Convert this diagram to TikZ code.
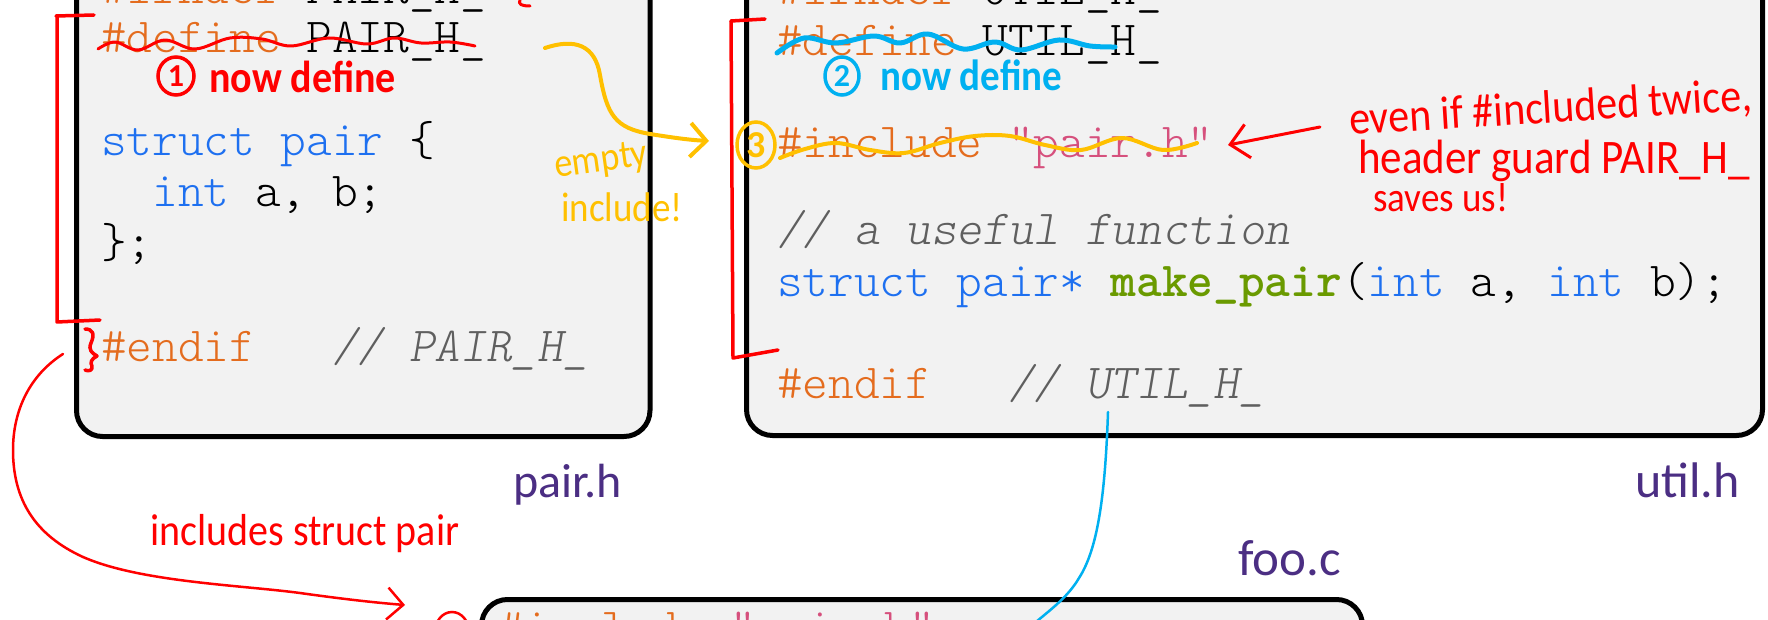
\documentclass[tikz,border=0pt]{standalone}
\usepackage{fontspec}
\usepackage{graphicx}
\usetikzlibrary{shapes.geometric,arrows.meta}
\newfontfamily\codefont{lmmonolt10-regular.otf}[ItalicFont=lmmonolt10-oblique.otf, BoldFont=lmmonolt10-bold.otf]
\newfontfamily\labelfont{Carlito}
\newfontfamily\handfont{Carlito}
\definecolor{codefill}{RGB}{242,242,242}
\definecolor{kwblue}{RGB}{30,112,240}
\definecolor{preorange}{RGB}{228,108,30}
\definecolor{cmtgray}{RGB}{95,95,95}
\definecolor{strpink}{RGB}{214,80,125}
\definecolor{fngreen}{RGB}{106,154,0}
\definecolor{labelpurple}{RGB}{75,46,131}
\definecolor{inkred}{RGB}{255,0,0}
\definecolor{inkblue}{RGB}{0,176,240}
\definecolor{inkamber}{RGB}{255,192,0}
\newcommand{\pp}[1]{\textcolor{preorange}{#1}}
\newcommand{\kw}[1]{\textcolor{kwblue}{#1}}
\newcommand{\cmt}[1]{\textcolor{cmtgray}{\itshape #1}}
\newcommand{\tallink}[1]{\scalebox{1}[1.12]{#1}}
\begin{document}
\begin{tikzpicture}[x=1pt,y=-1pt,
  codebox/.style={draw=black, fill=codefill, line width=5pt, rounded corners=26pt,
    rectangle, inner sep=0pt},
  code/.style={anchor=base west, inner sep=0pt,
    font=\codefont\fontsize{48.9pt}{52pt}\selectfont},
  lbl/.style={anchor=base west, inner sep=0pt, text=labelpurple},
  hand/.style={anchor=base west, inner sep=0pt, text=#1},
  ring/.style={draw=#1, text=#1, ellipse, line width=3.5pt, inner sep=0pt,
    font=\handfont\bfseries\fontsize{32pt}{34pt}\selectfont},
  ink/.style={draw=#1, line cap=round, line join=round},
]
\useasboundingbox (0,0) rectangle (1768,620);

% ---- file boxes ----
\node[codebox, minimum width=573.5pt, minimum height=476.5pt] (pairbox) at (363.25,198.25) {};
\node[codebox, minimum width=1016pt, minimum height=475.5pt] (utilbox) at (1254.5,197.75) {};
\node[codebox, minimum width=881pt, minimum height=100.5pt] (foobox) at (922,649.75) {};

% ---- pair.h ----
\node[code] (p1) at (101,4)   {\pp{\#ifndef}\ PAIR\_H\_};
\node[code] (p2) at (101,53)  {\pp{\#define}\ PAIR\_H\_};
\node[code] (p3) at (101,156) {\kw{struct\ pair}\ \{};
\node[code] (p4) at (101,207) {\ \ \kw{int}\ a,\ b;};
\node[code] (p5) at (101,258) {\};};
\node[code] (p6) at (101,361) {\pp{\#endif}\ \ \ \cmt{//\ PAIR\_H\_}};

% ---- util.h ----
\node[code] (u1) at (777,5)   {\pp{\#ifndef}\ UTIL\_H\_};
\node[code] (u2) at (777,56)  {\pp{\#define}\ UTIL\_H\_};
\node[code] (u3) at (777,158) {\pp{\#include}\ \textcolor{strpink}{"pair.h"}};
\node[code] (u4) at (777,245) {\cmt{//\ a\ useful\ function}};
\node[code] (u5) at (777,296) {\kw{struct\ pair*}\ \textcolor{fngreen}{\bfseries make\_pair}(\kw{int}\ a,\ \kw{int}\ b);};
\node[code] (u6) at (777,398) {\pp{\#endif}\ \ \ \cmt{//\ UTIL\_H\_}};

% ---- foo.c ----
\node[code] (f1) at (499,642) {\pp{\#include}\ \textcolor{strpink}{"pair.h"}};

% ---- file names ----
\node[lbl, font=\labelfont\fontsize{48pt}{50pt}\selectfont] (pairlbl) at (513,497) {pair.h};
\node[lbl, font=\labelfont\fontsize{50pt}{52pt}\selectfont] (utillbl) at (1635,497) {util.h};
\node[lbl, font=\labelfont\fontsize{51pt}{53pt}\selectfont] (foolbl) at (1238,575) {foo.c};

% ---- red ink: header guard of pair.h ----
\draw[ink=inkred, line width=3.5pt] (56,16) -- (94,15);
\draw[ink=inkred, line width=3.5pt] (57,16) -- (57,322) -- (100,320);
\draw[ink=inkred, line width=3.5pt] (85,329) .. controls (93,329) and (95,334) .. (91,343)
  .. controls (88,350) and (92,353) .. (97,356)
  .. controls (91,359) and (90,363) .. (92,366) .. controls (93,370) and (89,372) .. (85,370);
\draw[ink=inkred, line width=3pt] (520,0) .. controls (518,4) and (521,6) .. (530,6);
\draw[ink=inkred, line width=3pt] plot[smooth, tension=0.6] coordinates {
  (98,49) (115,42) (138,50) (165,40) (195,49) (230,38) (262,39) (291,46)
  (329,38) (367,44) (394,38) (421,43) (450,42) (475,46)};
\node[ring=inkred, minimum width=36pt, minimum height=38pt] (ringone) at (176,76) {1};
\node[hand=inkred, font=\handfont\bfseries\fontsize{40pt}{43pt}\selectfont] (nowone) at (209,93) {\tallink{now define}};

% ---- blue ink: util.h define ----
\draw[ink=inkblue, line width=5pt] plot[smooth, tension=0.6] coordinates {
  (777,53) (804,38) (836,43) (874,36) (900,43) (928,34) (963,49) (995,42)
  (1021,50) (1059,40) (1090,46) (1115,47)};
\node[ring=inkblue, minimum width=34pt, minimum height=38pt] (ringtwo) at (842,76) {2};
\node[hand=inkblue, font=\handfont\bfseries\fontsize{39pt}{42pt}\selectfont] (nowtwo) at (880,91) {\tallink{now define}};

% ---- red bracket of util.h ----
\draw[ink=inkred, line width=3.5pt] (731,21) -- (765,19);
\draw[ink=inkred, line width=3.5pt] (731,21) -- (733,358) -- (778,350);

% ---- amber ink: the include of pair.h ----
\draw[ink=inkamber, line width=4pt] plot[smooth, tension=0.6] coordinates {
  (780,158) (805,149) (836,143) (870,150) (904,153) (940,143) (975,136) (1010,136)
  (1045,145) (1081,150) (1122,138) (1163,150) (1197,143)};
\node[ring=inkamber, minimum width=38pt, minimum height=46pt,
  font=\handfont\bfseries\fontsize{38pt}{40pt}\selectfont] (ringthree) at (756,145) {3};
\coordinate (ambstart) at (545,48);
\draw[ink=inkamber, line width=4pt, -{Straight Barb[length=16pt,width=34pt]}]
  (ambstart) .. controls (575,38) and (595,45) .. (600,75)
  .. controls (607,115) and (615,128) .. (650,134)
  .. controls (675,138) and (690,140) .. (709,141);
\node[hand=inkamber, rotate=8, font=\handfont\fontsize{36pt}{38pt}\selectfont] (emptynote) at (556,178) {\tallink{empty}};
\node[hand=inkamber, font=\handfont\fontsize{37pt}{39pt}\selectfont] (inclnote) at (561,222) {\tallink{include!}};

% ---- red note: guard saves us ----
\node[hand=inkred, rotate=3.5, font=\handfont\fontsize{42pt}{44pt}\selectfont] (evennote) at (1350,135) {\tallink{even if \#included twice,}};
\node[hand=inkred, font=\handfont\fontsize{43pt}{45pt}\selectfont] (guardnote) at (1358,174) {\tallink{header guard PAIR\_H\_}};
\node[hand=inkred, font=\handfont\fontsize{37pt}{39pt}\selectfont] (savesnote) at (1373,212) {\tallink{saves us!}};
\coordinate (evenfrom) at (1320,127);
\coordinate (incltip) at (1228,145);
\draw[ink=inkred, line width=3pt, -{Straight Barb[length=18pt,width=34pt]}] (evenfrom) -- (incltip);

% ---- blue ink: util.h reaches foo.c ----
\coordinate (utilend) at (1108,412);
\coordinate (fooin) at (1036,622);
\draw[ink=inkblue, line width=2.5pt] (utilend) .. controls (1105,500) and (1097,550) .. (1079,578)
  .. controls (1068,597) and (1050,610) .. (fooin);

% ---- red ink: pair.h reaches foo.c ----
\node[ring=inkred, line width=2.5pt, minimum width=34pt, minimum height=40pt] (ringfoo) at (452,632) {};
\coordinate (bracefrom) at (63,354);
\coordinate (footip) at (405,605);
\draw[ink=inkred, line width=2.5pt, -{Straight Barb[length=16pt,width=32pt]}]
  (bracefrom) .. controls (30,375) and (13,410) .. (13,450)
  .. controls (13,500) and (35,535) .. (83,557)
  .. controls (140,582) and (240,585) .. (300,593)
  .. controls (350,600) and (380,603) .. (footip);
\node[hand=inkred, font=\handfont\fontsize{40pt}{42pt}\selectfont] (inclstruct) at (150,545) {\tallink{includes struct pair}};
\end{tikzpicture}
\end{document}
